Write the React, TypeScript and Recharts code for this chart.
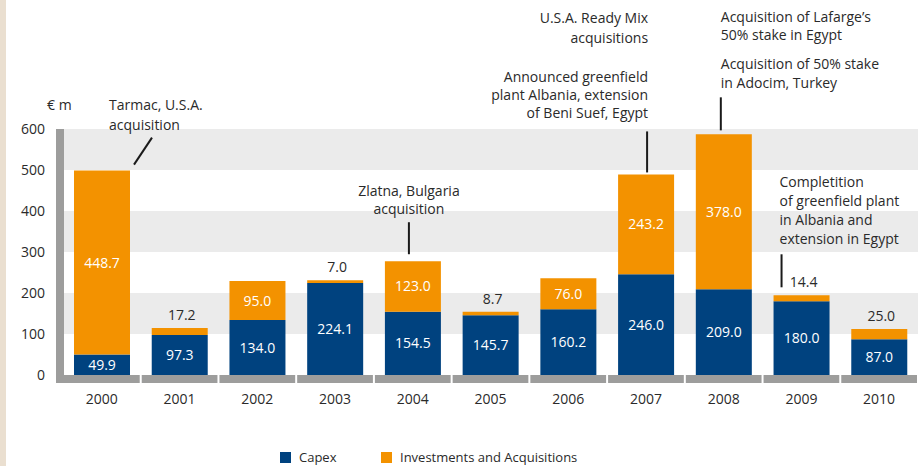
import React from 'react';
import { BarChart, Bar, XAxis, YAxis, ReferenceArea, LabelList, Legend } from 'recharts';

const years = ['2000', '2001', '2002', '2003', '2004', '2005', '2006', '2007', '2008', '2009', '2010'];
const capex = [49.9, 97.3, 134.0, 224.1, 154.5, 145.7, 160.2, 246.0, 209.0, 180.0, 87.0];
const investments = [448.7, 17.2, 95.0, 7.0, 123.0, 8.7, 76.0, 243.2, 378.0, 14.4, 25.0];
const yTicks = [0, 100, 200, 300, 400, 500, 600];
const shadedBands = [
  [100, 200],
  [300, 400],
  [500, 600],
];

const notes = [
  { year: '2000', lines: ['Tarmac, U.S.A.', 'acquisition'] },
  { year: '2004', lines: ['Zlatna, Bulgaria', 'acquisition'] },
  {
    year: '2007',
    lines: ['U.S.A. Ready Mix', 'acquisitions', 'Announced greenfield', 'plant Albania, extension', 'of Beni Suef, Egypt'],
  },
  {
    year: '2008',
    lines: ["Acquisition of Lafarge\u2019s", '50% stake in Egypt', 'Acquisition of 50% stake', 'in Adocim, Turkey'],
  },
  {
    year: '2009',
    lines: ['Completition', 'of greenfield plant', 'in Albania and', 'extension in Egypt'],
  },
];

const data = years.map((year, i) => ({ year, capex: capex[i], invest: investments[i] }));

// layout / style
const W = 918;
const H = 466;
const PLOT_LEFT = 63;
const PLOT_TOP = 129;
const PLOT_BOTTOM = 375;
const BAND = (W - PLOT_LEFT) / years.length;
const NAVY = '#00427f';
const ORANGE = '#f39200';
const AXIS_GRAY = '#9d9d9c';
const SHADE = '#ebebeb';
const TEXT = '#2a2a2a';
const FONT = '"Open Sans", sans-serif';

// where each note sits, relative to the bar centre (dx) and bar top (baselines / line)
const noteLayout: Record<string, { anchor: 'start' | 'middle' | 'end'; dx: number; baselines: number[]; line: number[] }> = {
  '2000': { anchor: 'start', dx: 7, baselines: [-61, -41], line: [32, -6, 50, -33] },
  '2004': { anchor: 'middle', dx: -4, baselines: [-65, -47], line: [-4, -7, -4, -39] },
  '2007': { anchor: 'end', dx: 2, baselines: [-151, -131, -92, -74, -56], line: [1, -2, 1, -43] },
  '2008': { anchor: 'start', dx: -3, baselines: [-112, -94, -65, -46], line: [-3, -4, -3, -37] },
  '2009': { anchor: 'start', dx: -22, baselines: [-108, -89, -70, -51], line: [-20, -8, -20, -41] },
};

const YearTick = (props: any) => {
  const { x, y, payload, index } = props;
  return (
    <g>
      <rect x={x - BAND / 2 + 1} y={y} width={BAND - 2} height={8} fill={AXIS_GRAY} />
      {index === 0 && (
        <rect x={PLOT_LEFT - 7} y={PLOT_TOP} width={8} height={y + 8 - PLOT_TOP} fill={AXIS_GRAY} />
      )}
      <text x={x} y={y + 29} textAnchor="middle" fill={TEXT} fontSize={14} fontFamily={FONT}>
        {payload.value}
      </text>
    </g>
  );
};

const CapexLabel = (props: any) => {
  const { x, y, width, height, value } = props;
  return (
    <text
      x={x + width / 2}
      y={y + height / 2 + 5}
      textAnchor="middle"
      fill="#ffffff"
      fontSize={14}
      fontFamily={FONT}
    >
      {Number(value).toFixed(1)}
    </text>
  );
};

const InvestLabel = (props: any) => {
  const { x, y, width, height, value, index } = props;
  const cx = x + width / 2;
  const small = height < 14;
  const note = notes.find((n) => n.year === years[index]);
  const lay = note ? noteLayout[note.year] : null;
  return (
    <g>
      {small ? (
        <text x={cx + 2} y={y - 8} textAnchor="middle" fill={TEXT} fontSize={14} fontFamily={FONT}>
          {Number(value).toFixed(1)}
        </text>
      ) : (
        <text x={cx} y={y + height / 2 + 5} textAnchor="middle" fill="#ffffff" fontSize={14} fontFamily={FONT}>
          {Number(value).toFixed(1)}
        </text>
      )}
      {note && lay && (
        <g>
          <line
            x1={cx + lay.line[0]}
            y1={y + lay.line[1]}
            x2={cx + lay.line[2]}
            y2={y + lay.line[3]}
            stroke="#1a1a1a"
            strokeWidth={2}
          />
          {note.lines.map((t, i) => (
            <text
              key={i}
              x={cx + lay.dx}
              y={y + lay.baselines[i]}
              textAnchor={lay.anchor}
              fill={TEXT}
              fontSize={14}
              fontFamily={FONT}
            >
              {t}
            </text>
          ))}
        </g>
      )}
    </g>
  );
};

const LegendContent = (props: any) => {
  const { payload = [] } = props;
  return (
    <div style={{ display: 'flex', paddingLeft: 280, fontFamily: FONT, fontSize: 13, color: TEXT }}>
      {payload.map((p: any, i: number) => (
        <div key={i} style={{ display: 'flex', alignItems: 'center', width: i === 0 ? 101 : 'auto' }}>
          <span style={{ display: 'inline-block', width: 11, height: 11, background: p.color, marginRight: 8 }} />
          <span>{p.value}</span>
        </div>
      ))}
    </div>
  );
};

export default function App() {
  return (
    <div style={{ position: 'absolute', left: 0, top: 0, width: W, height: H, background: '#ffffff' }}>
      <div style={{ position: 'absolute', left: 0, top: 0, width: 6, height: H, background: '#eadfd0' }} />
      <BarChart
        width={W}
        height={H}
        data={data}
        margin={{ top: PLOT_TOP, right: 0, left: 0, bottom: H - PLOT_BOTTOM - 30 }}
        barSize={56}
      >
        {shadedBands.map(([a, b]) => (
          <ReferenceArea key={a} y1={a} y2={b} fill={SHADE} fillOpacity={1} stroke="none" />
        ))}
        <XAxis
          dataKey="year"
          height={30}
          axisLine={false}
          tickLine={false}
          tickSize={0}
          tickMargin={0}
          interval={0}
          tick={<YearTick />}
        />
        <YAxis
          width={PLOT_LEFT}
          domain={[0, 600]}
          ticks={yTicks}
          axisLine={false}
          tickLine={false}
          tickSize={0}
          tickMargin={18}
          tick={{ fill: TEXT, fontSize: 14, fontFamily: FONT }}
        />
        <Bar dataKey="capex" name="Capex" stackId="a" fill={NAVY} isAnimationActive={false}>
          <LabelList dataKey="capex" content={<CapexLabel />} />
        </Bar>
        <Bar dataKey="invest" name="Investments and Acquisitions" stackId="a" fill={ORANGE} isAnimationActive={false}>
          <LabelList dataKey="invest" content={<InvestLabel />} />
        </Bar>
        <Legend
          layout="horizontal"
          verticalAlign="middle"
          align="center"
          wrapperStyle={{ top: 448, left: 0, width: W }}
          content={<LegendContent />}
        />
        <text x={47} y={110} fill={TEXT} fontSize={14} fontFamily={FONT}>
          € m
        </text>
      </BarChart>
    </div>
  );
}
